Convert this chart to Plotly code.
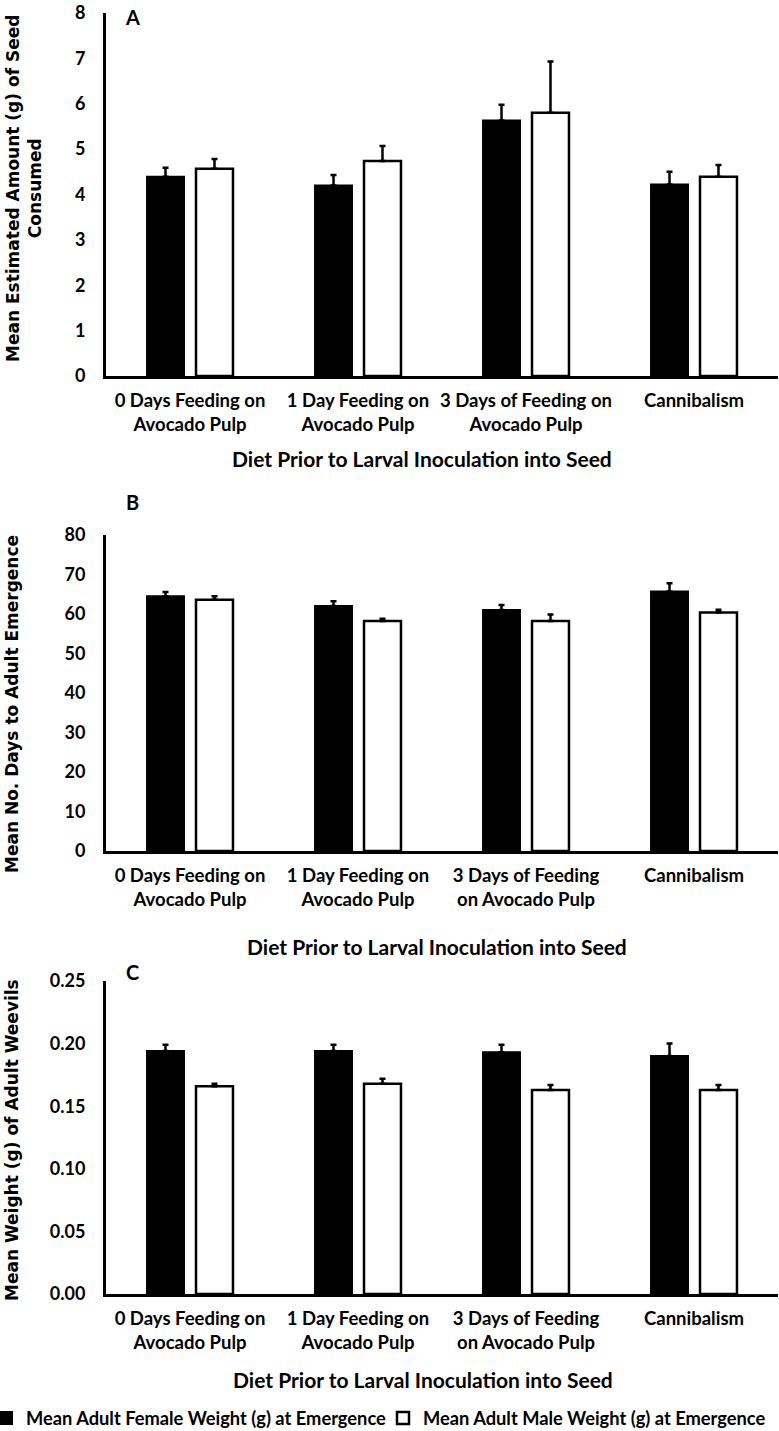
import plotly.graph_objects as go

# ---------------- data ----------------
cats_a = ["0 Days Feeding on<br>Avocado Pulp", "1 Day Feeding on<br>Avocado Pulp",
          "3 Days of Feeding on<br>Avocado Pulp", "Cannibalism"]
cats_bc = ["0 Days Feeding on<br>Avocado Pulp", "1 Day Feeding on<br>Avocado Pulp",
           "3 Days of Feeding<br>on Avocado Pulp", "Cannibalism"]

seed_female = [4.39, 4.20, 5.63, 4.22]
seed_female_err = [0.20, 0.23, 0.35, 0.28]
seed_male = [4.57, 4.74, 5.80, 4.39]
seed_male_err = [0.21, 0.33, 1.13, 0.26]

days_female = [64.5, 62.0, 61.0, 65.7]
days_female_err = [1.1, 1.2, 1.3, 2.1]
days_male = [63.6, 58.2, 58.2, 60.4]
days_male_err = [0.9, 0.6, 1.7, 0.7]

wt_female = [0.194, 0.194, 0.193, 0.190]
wt_female_err = [0.005, 0.005, 0.006, 0.010]
wt_male = [0.166, 0.168, 0.163, 0.163]
wt_male_err = [0.002, 0.004, 0.004, 0.004]

female_name = "Mean Adult Female Weight (g) at Emergence"
male_name = "Mean Adult Male Weight (g) at Emergence"

yticks_a = [0, 1, 2, 3, 4, 5, 6, 7, 8]
yticks_b = [0, 10, 20, 30, 40, 50, 60, 70, 80]
yticks_c = [0.00, 0.05, 0.10, 0.15, 0.20, 0.25]

x_title = "Diet Prior to Larval Inoculation into Seed"
y_title_a = "Mean Estimated Amount (g) of Seed<br>Consumed"
y_title_b = "Mean No. Days to Adult Emergence"
y_title_c = "Mean Weight (g) of Adult Weevils"

# ---------------- layout helpers ----------------
W, H = 779, 1431
def px(x):
    return x / W
def py(y):
    return 1 - y / H

FONT = "Lato"
YFONT = "DejaVu Sans"

fig = go.Figure()

panels = [
    ("x", "y", cats_a, seed_female, seed_female_err, seed_male, seed_male_err, True),
    ("x2", "y2", cats_bc, days_female, days_female_err, days_male, days_male_err, False),
    ("x3", "y3", cats_bc, wt_female, wt_female_err, wt_male, wt_male_err, False),
]

for xa, ya, cats, fv, fe, mv, me, show in panels:
    fig.add_trace(go.Bar(
        x=cats, y=fv, name=female_name, xaxis=xa, yaxis=ya, showlegend=show,
        legendgroup="f", legend="legend",
        marker=dict(color="black", line=dict(color="black", width=2)),
        error_y=dict(type="data", array=fe, arrayminus=[0] * len(fe), symmetric=False,
                     color="black", thickness=2.5, width=3),
    ))
    fig.add_trace(go.Bar(
        x=cats, y=mv, name=male_name, xaxis=xa, yaxis=ya, showlegend=show,
        legendgroup="m", legend="legend2",
        marker=dict(color="white", line=dict(color="black", width=2.5)),
        error_y=dict(type="data", array=me, arrayminus=[0] * len(me), symmetric=False,
                     color="black", thickness=2.5, width=3),
    ))

xdom = [px(106), px(778)]
common_x = dict(showgrid=False, zeroline=False, showline=True, linecolor="black",
                linewidth=3, ticks="", tickfont=dict(family=FONT, size=18.5, color="black", weight=700),
                domain=xdom, ticklabelstandoff=6, automargin=False, ticklabeloverflow="allow")
common_y = dict(showgrid=False, zeroline=False, showline=True, linecolor="black",
                linewidth=3, ticks="", tickfont=dict(family=FONT, size=18, color="black", weight=700),
                ticklabelstandoff=14, automargin=False, ticklabeloverflow="allow")

legend_font = dict(family=FONT, size=18.3, color="black", weight=700)

fig.update_layout(
    width=W, height=H,
    margin=dict(l=0, r=0, t=0, b=0, autoexpand=False),
    paper_bgcolor="white", plot_bgcolor="white",
    barmode="group", bargap=0.417, bargroupgap=0.245,
    xaxis=dict(common_x, anchor="y"),
    yaxis=dict(common_y, anchor="x", domain=[py(376), py(13)], range=[0, 8],
               tickvals=yticks_a, ticktext=[str(v) for v in yticks_a]),
    xaxis2=dict(common_x, anchor="y2"),
    yaxis2=dict(common_y, anchor="x2", domain=[py(851), py(535)], range=[0, 80],
                tickvals=yticks_b, ticktext=[str(v) for v in yticks_b]),
    xaxis3=dict(common_x, anchor="y3"),
    yaxis3=dict(common_y, anchor="x3", domain=[py(1294), py(981)], range=[0, 0.25],
                tickvals=yticks_c, ticktext=[f"{v:.2f}" for v in yticks_c]),
    legend=dict(orientation="h", x=px(-14), xanchor="left", y=py(1418), yanchor="middle",
                font=legend_font, itemclick=False, bgcolor="rgba(0,0,0,0)"),
    legend2=dict(orientation="h", x=px(383), xanchor="left", y=py(1418), yanchor="middle",
                 font=legend_font, itemclick=False, bgcolor="rgba(0,0,0,0)"),
    showlegend=True,
)

ann_font_x = dict(family=FONT, size=21, color="black", weight=700)
ann_font_y = dict(family=YFONT, size=17, color="black", weight=700)
ann_font_p = dict(family=FONT, size=20, color="black", weight=700)

annotations = [
    dict(text=x_title, x=px(422), y=py(458), font=ann_font_x),
    dict(text=x_title, x=px(437), y=py(947), font=ann_font_x),
    dict(text=x_title, x=px(423), y=py(1379), font=ann_font_x),
    dict(text=y_title_a, x=px(24), y=py(189), font=ann_font_y, textangle=-90),
    dict(text=y_title_b, x=px(12), y=py(704), font=ann_font_y, textangle=-90),
    dict(text=y_title_c, x=px(12), y=py(1140), font=ann_font_y, textangle=-90),
    dict(text="A", x=px(132), y=py(17), font=ann_font_p),
    dict(text="B", x=px(132), y=py(502), font=ann_font_p),
    dict(text="C", x=px(132), y=py(972), font=ann_font_p),
]
for a in annotations:
    a.update(xref="paper", yref="paper", xanchor="center", yanchor="middle",
             showarrow=False)
fig.update_layout(annotations=annotations)

fig.write_html("out.html", config={"displayModeBar": False},
               post_script="document.body.style.margin='0';")
